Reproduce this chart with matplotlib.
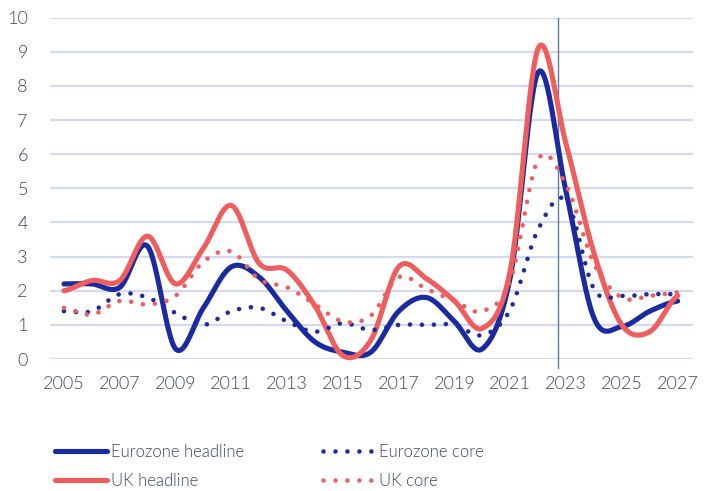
import numpy as np
import matplotlib
matplotlib.use("Agg")
import matplotlib.pyplot as plt

years = list(range(2005, 2028))
ez_headline = [2.2, 2.2, 2.1, 3.3, 0.3, 1.5, 2.7, 2.4, 1.4, 0.5, 0.2, 0.2, 1.4, 1.8, 1.1, 0.3,
               2.4, 8.4, 4.9, 1.2, 0.95, 1.4, 1.7]
ez_core = [1.4, 1.4, 1.9, 1.8, 1.35, 1.0, 1.4, 1.5, 1.1, 0.8, 1.05, 0.85, 1.0, 1.0, 1.0, 0.7,
           1.45, 3.8, 4.65, 2.05, 1.85, 1.9, 1.9]
uk_headline = [2.0, 2.3, 2.3, 3.6, 2.2, 3.25, 4.5, 2.8, 2.6, 1.55, 0.1, 0.55, 2.7, 2.35, 1.7, 0.9,
               2.6, 9.1, 6.3, 3.1, 1.0, 0.8, 1.85]
uk_core = [1.5, 1.3, 1.7, 1.6, 1.85, 2.85, 3.15, 2.33, 2.1, 1.6, 1.1, 1.27, 2.4, 2.05, 1.7, 1.4,
           2.3, 5.85, 5.1, 2.8, 1.8, 1.85, 1.95]
xtick_labels = [str(y) for y in range(2005, 2028, 2)]
ytick_values = list(range(0, 11))
marker_year = 2022.7

BLUE = "#1A2AA0"
RED = "#EF5D5D"
GRID = "#D3D9F0"
TEXT = "#3E4466"

plt.rcParams['font.family'] = ['Lato', 'DejaVu Sans']
W = 300


def smooth(x, y, n=30):
    """Catmull-Rom style smoothing (like a spreadsheet 'smoothed line')."""
    x = np.asarray(x, float)
    y = np.asarray(y, float)
    m = np.zeros_like(y)
    m[1:-1] = (y[2:] - y[:-2]) / 2.0
    m[0] = (y[1] - y[0]) / 2.0
    m[-1] = (y[-1] - y[-2]) / 2.0
    xs, ys = [], []
    for i in range(len(x) - 1):
        t = np.linspace(0, 1, n, endpoint=(i == len(x) - 2))
        h00 = 2 * t**3 - 3 * t**2 + 1
        h10 = t**3 - 2 * t**2 + t
        h01 = -2 * t**3 + 3 * t**2
        h11 = t**3 - t**2
        ys.append(h00 * y[i] + h10 * m[i] + h01 * y[i + 1] + h11 * m[i + 1])
        xs.append(x[i] + t * (x[i + 1] - x[i]))
    return np.concatenate(xs), np.concatenate(ys)


fig = plt.figure(figsize=(7.11, 4.91), dpi=100)
ax = fig.add_axes([50 / 711, 1 - 359 / 491, 643 / 711, (359 - 17.7) / 491])
ax.set_xlim(2004.5, 2027.55)
ax.set_ylim(0, 10)

for v in ytick_values:
    ax.axhline(v, color=GRID, lw=1.6, zorder=0)

ax.plot([marker_year, marker_year], [-0.27, 10], color="#5E7F9C", lw=1.0,
        clip_on=False, zorder=1)

sx, sy = smooth(years, ez_headline)
ax.plot(sx, sy, color=BLUE, lw=3.7, solid_capstyle='round', clip_on=False,
        zorder=2, label="Eurozone headline")
sx, sy = smooth(years, uk_headline)
ax.plot(sx, sy, color=RED, lw=3.7, solid_capstyle='round', clip_on=False,
        zorder=3, label="UK headline")
sx, sy = smooth(years, ez_core)
ax.plot(sx, sy, color=BLUE, lw=3.3, linestyle=(0, (0.01, 2.6)),
        dash_capstyle='round', clip_on=False, zorder=4, label="Eurozone core")
sx, sy = smooth(years, uk_core)
ax.plot(sx, sy, color=RED, lw=3.3, linestyle=(0, (0.01, 2.6)),
        dash_capstyle='round', clip_on=False, zorder=5, label="UK core")

for s in ax.spines.values():
    s.set_visible(False)
ax.set_xticks(list(range(2005, 2028, 2)))
ax.set_xticklabels(xtick_labels)
ax.set_yticks(ytick_values)
ax.set_yticklabels([str(v) for v in ytick_values])
ax.tick_params(axis='both', length=0, labelsize=13, labelcolor=TEXT)
ax.tick_params(axis='x', pad=12)
ax.tick_params(axis='y', pad=16)
for t in ax.get_xticklabels() + ax.get_yticklabels():
    t.set_fontweight(W)

handles, labels = ax.get_legend_handles_labels()
leg = fig.legend(handles, labels,
                 ncol=2, loc='upper left', bbox_to_anchor=(55 / 711, 1 - 444 / 491),
                 frameon=False,
                 prop={'family': ['Lato', 'DejaVu Sans'], 'size': 12, 'weight': W},
                 handlelength=3.1, handletextpad=0.25,
                 columnspacing=4.76, labelspacing=0.78, borderpad=0, borderaxespad=0)
for t in leg.get_texts():
    t.set_color(TEXT)

fig.savefig("out.png", dpi=100)
